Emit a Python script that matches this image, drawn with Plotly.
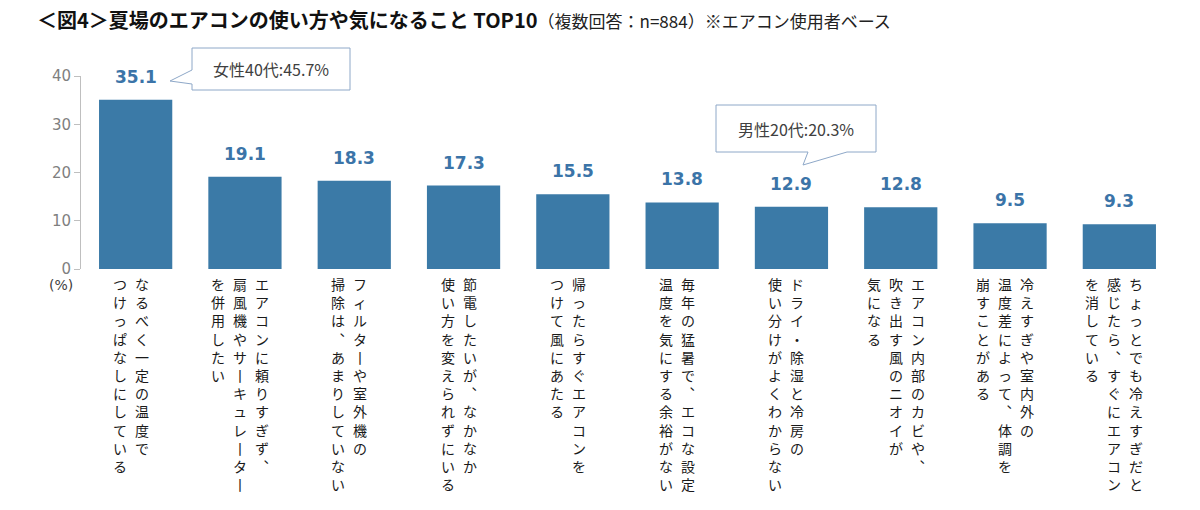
import plotly.graph_objects as go

categories = [
    "なるべく一定の温度でつけっぱなしにしている",
    "エアコンに頼りすぎず、扇風機やサーキュレーターを併用したい",
    "フィルターや室外機の掃除は、あまりしていない",
    "節電したいが、なかなか使い方を変えられずにいる",
    "帰ったらすぐエアコンをつけて風にあたる",
    "毎年の猛暑で、エコな設定温度を気にする余裕がない",
    "ドライ・除湿と冷房の使い分けがよくわからない",
    "エアコン内部のカビや、吹き出す風のニオイが気になる",
    "冷えすぎや室内外の温度差によって、体調を崩すことがある",
    "ちょっとでも冷えすぎだと感じたら、すぐにエアコンを消している",
]
values = [35.1, 19.1, 18.3, 17.3, 15.5, 13.8, 12.9, 12.8, 9.5, 9.3]
# vertical label columns, right to left
label_columns = [
    ["なるべく一定の温度で", "つけっぱなしにしている"],
    ["エアコンに頼りすぎず、", "扇風機やサーキュレーター", "を併用したい"],
    ["フィルターや室外機の", "掃除は、あまりしていない"],
    ["節電したいが、なかなか", "使い方を変えられずにいる"],
    ["帰ったらすぐエアコンを", "つけて風にあたる"],
    ["毎年の猛暑で、エコな設定", "温度を気にする余裕がない"],
    ["ドライ・除湿と冷房の", "使い分けがよくわからない"],
    ["エアコン内部のカビや、", "吹き出す風のニオイが", "気になる"],
    ["冷えすぎや室内外の", "温度差によって、体調を", "崩すことがある"],
    ["ちょっとでも冷えすぎだと", "感じたら、すぐにエアコン", "を消している"],
]
y_ticks = [0, 10, 20, 30, 40]
callouts = [("女性40代:45.7%", 0), ("男性20代:20.3%", 6)]

title_main = "＜図4＞夏場のエアコンの使い方や気になること TOP10"
title_sub = "（複数回答：n=884）※エアコン使用者ベース"

FONT = "Noto Sans CJK JP"
NUMFONT = "DejaVu Sans"
BAR = "#3b7aa7"
LABEL = "#3b74a8"

# plot area in pixels
L, R, T, B = 81, 26, 76, 241
W, H = 1200, 510
PW, PH = W - L - R, H - T - B


def px(x):
    return (x - L) / PW


def py(y):
    return (H - B - y) / PH


fig = go.Figure()
fig.add_trace(go.Bar(x=categories, y=values, marker_color=BAR, marker_line_width=0,
                     hoverinfo="skip"))

ann = []
# data labels
for c, v in zip(categories, values):
    ann.append(dict(x=c, y=v, xref="x", yref="y", text=f"<b>{v:.1f}</b>",
                    showarrow=False, xanchor="center", yanchor="bottom", yshift=11,
                    font=dict(family=NUMFONT, size=17, color=LABEL)))

vmap = {"、": "︑", "ー": "丨"}
for c, cols in zip(categories, label_columns):
    n = len(cols)
    for i, col in enumerate(cols):
        txt = "<br>".join(vmap.get(ch, ch) for ch in col)
        shift = -5 + (n - 1) / 2 * 22 - i * 22
        ann.append(dict(x=c, y=0, xref="x", yref="paper", text=txt, showarrow=False,
                        xanchor="center", yanchor="top", xshift=shift, yshift=-3,
                        align="center",
                        font=dict(family=FONT, size=14, color="#1a1a1a")))

ann.append(dict(x=px(61), y=py(285), xref="paper", yref="paper", text="(%)",
                showarrow=False, xanchor="center", yanchor="middle",
                font=dict(family=NUMFONT, size=14, color="#404040")))

# callouts
shapes = []
b1 = (192, 48, 350, 90)
p1 = "M {x0},{y0} L {x1},{y0} L {x1},{y1} L {x0},{y1} L {x0},{b} L {tx},{ty} L {x0},{a} Z".format(
    x0=px(b1[0]), x1=px(b1[2]), y0=py(b1[1]), y1=py(b1[3]),
    a=py(70), b=py(84), tx=px(170), ty=py(81))
b2 = (716, 105, 876, 152)
p2 = "M {x0},{y0} L {x1},{y0} L {x1},{y1} L {c},{y1} L {tx},{ty} L {d},{y1} L {x0},{y1} Z".format(
    x0=px(b2[0]), x1=px(b2[2]), y0=py(b2[1]), y1=py(b2[3]),
    c=px(847), d=px(808), tx=px(803), ty=py(165))
for p in (p1, p2):
    shapes.append(dict(type="path", path=p, xref="paper", yref="paper",
                       line=dict(color="#8ea8c8", width=1), fillcolor="white"))
for (t, _), b in zip(callouts, (b1, b2)):
    ann.append(dict(x=px((b[0] + b[2]) / 2), y=py((b[1] + b[3]) / 2), xref="paper",
                    yref="paper", text=t, showarrow=False,
                    xanchor="center", yanchor="middle",
                    font=dict(family=FONT, size=16, color="#404040")))

fig.update_layout(
    width=W, height=H,
    margin=dict(l=L, r=R, t=T, b=B),
    paper_bgcolor="white", plot_bgcolor="white",
    bargap=0.33,
    showlegend=False,
    title=dict(text=f"<b>{title_main}</b><span style='font-size:17px;color:#222'>{title_sub}</span>",
               x=37 / W, xanchor="left", y=1 - 21 / H, yanchor="middle",
               font=dict(family=FONT, size=20, color="#111111")),
    xaxis=dict(showticklabels=False, showline=False, ticks="", showgrid=False,
               zeroline=False, fixedrange=True),
    yaxis=dict(range=[0, 40], tickvals=y_ticks, showgrid=False, zeroline=False,
               showline=True, linecolor="#bfbfbf", linewidth=1,
               ticks="outside", ticklen=6, tickcolor="#bfbfbf",
               tickfont=dict(family=NUMFONT, size=15, color="#7f7f7f")),
    annotations=ann,
    shapes=shapes,
)

fig.write_html("out.html")
